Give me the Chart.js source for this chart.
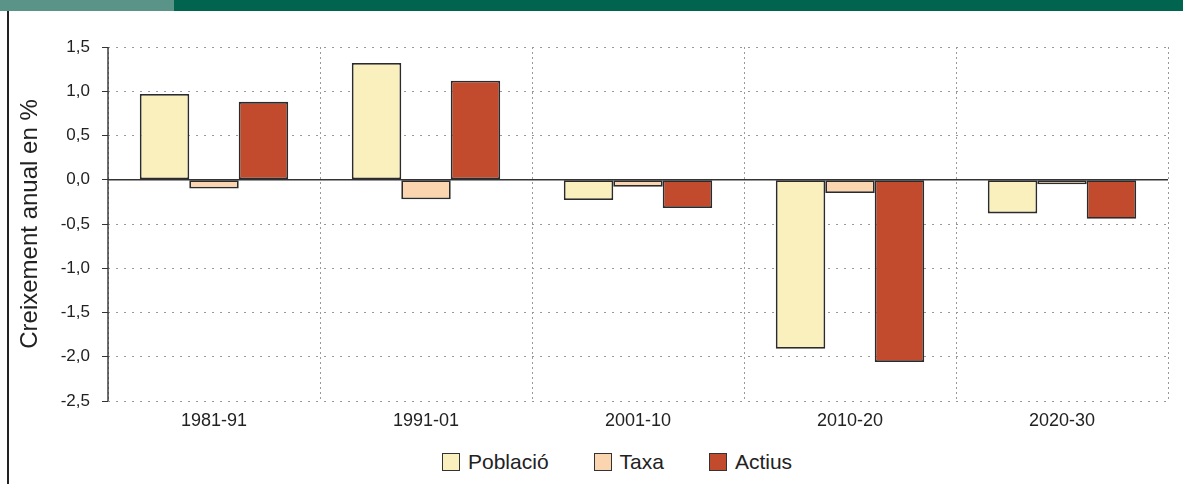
<!DOCTYPE html>
<html>
<head>
<meta charset="utf-8">
<script src="https://cdn.jsdelivr.net/npm/chart.js@4.4.1/dist/chart.umd.min.js"></script>
<style>
  html, body { margin: 0; padding: 0; background: #fff; }
  body { width: 1183px; height: 484px; position: relative; overflow: hidden; font-family: Arial, "Liberation Sans", sans-serif; }
  .band-light { position: absolute; left: 0; top: 0; width: 174px; height: 11px; background: #5a9488; }
  .band-dark { position: absolute; left: 174px; top: 0; right: 0; height: 11px; background: #00644f; }
  .rule { position: absolute; left: 7px; top: 11px; width: 2px; bottom: 0; background: #222; }
  .wrap { position: absolute; left: 0; top: 0; width: 1183px; height: 440px; }
  .legend { position: absolute; left: 442px; top: 451px; display: flex; gap: 45px; font-size: 21px; line-height: 22px; color: #222; }
  .legend span { display: flex; align-items: center; }
  .legend i { display: inline-block; width: 16px; height: 16px; border: 1.5px solid #333; margin-right: 8px; }
</style>
</head>
<body>
<div class="band-light"></div>
<div class="band-dark"></div>
<div class="rule"></div>
<div class="wrap"><canvas id="myChart"></canvas></div>
<div class="legend" id="legend"></div>
<script>
// values
const periods = ['1981-91', '1991-01', '2001-10', '2010-20', '2020-30'];
const poblacio = [0.97, 1.32, -0.23, -1.91, -0.38];
const taxa = [-0.10, -0.22, -0.08, -0.15, -0.05];
const actius = [0.88, 1.12, -0.32, -2.06, -0.44];

const seriesNames = ['Població', 'Taxa', 'Actius'];
const seriesColors = ['#faf0be', '#fbd5b0', '#c24b2e'];

function makeSet(i, values) {
  return {
    label: seriesNames[i],
    data: values,
    backgroundColor: seriesColors[i],
    borderColor: '#2b2b2b',
    borderWidth: 1.8,
    borderSkipped: false,
    categoryPercentage: 0.7,
    barPercentage: 1
  };
}

// solid axis line and zero line
const axisLines = {
  id: 'axisLines',
  beforeDatasetsDraw(chart) {
    const ctx = chart.ctx, a = chart.chartArea, y = chart.scales.y;
    const y0 = y.getPixelForValue(0);
    ctx.save();
    ctx.strokeStyle = '#333';
    ctx.lineWidth = 1.4;
    ctx.setLineDash([]);
    ctx.beginPath();
    ctx.moveTo(a.left, y0);
    ctx.lineTo(a.right, y0);
    ctx.moveTo(a.left, a.top);
    ctx.lineTo(a.left, a.bottom);
    ctx.stroke();
    ctx.restore();
  }
};

const fontFam = 'Arial, "Liberation Sans", sans-serif';

const config = {
  type: 'bar',
  data: {
    labels: periods,
    datasets: [makeSet(0, poblacio), makeSet(1, taxa), makeSet(2, actius)]
  },
  options: {
    responsive: true,
    maintainAspectRatio: false,
    animation: false,
    layout: { padding: { top: 47, left: 12, right: 15, bottom: 0 } },
    plugins: { legend: { display: false }, tooltip: { enabled: false } },
    scales: {
      x: {
        grid: { color: '#999', drawTicks: false, offset: true },
        border: { display: false, dash: [2, 3] },
        ticks: { color: '#222', font: { size: 18, family: fontFam }, padding: 9 },
        afterFit(scale) { scale.height = 39; }
      },
      y: {
        min: -2.5,
        max: 1.5,
        grid: { color: '#999', tickColor: '#333', tickLength: 6, tickBorderDash: [] },
        border: { display: false, dash: [2, 6] },
        ticks: {
          stepSize: 0.5,
          color: '#222',
          padding: 12,
          font: { size: 17, family: fontFam },
          callback: v => v.toFixed(1).replace('.', ',')
        },
        title: {
          display: true,
          text: 'Creixement anual en %',
          color: '#222',
          font: { size: 24, family: fontFam }
        },
        afterFit(scale) { scale.width = 96; }
      }
    }
  },
  plugins: [axisLines]
};

const myChart = new Chart(document.getElementById('myChart'), config);

// legend
const legend = document.getElementById('legend');
seriesNames.forEach((name, i) => {
  const item = document.createElement('span');
  const box = document.createElement('i');
  box.style.background = seriesColors[i];
  item.appendChild(box);
  item.appendChild(document.createTextNode(name));
  legend.appendChild(item);
});
</script>
</body>
</html>
